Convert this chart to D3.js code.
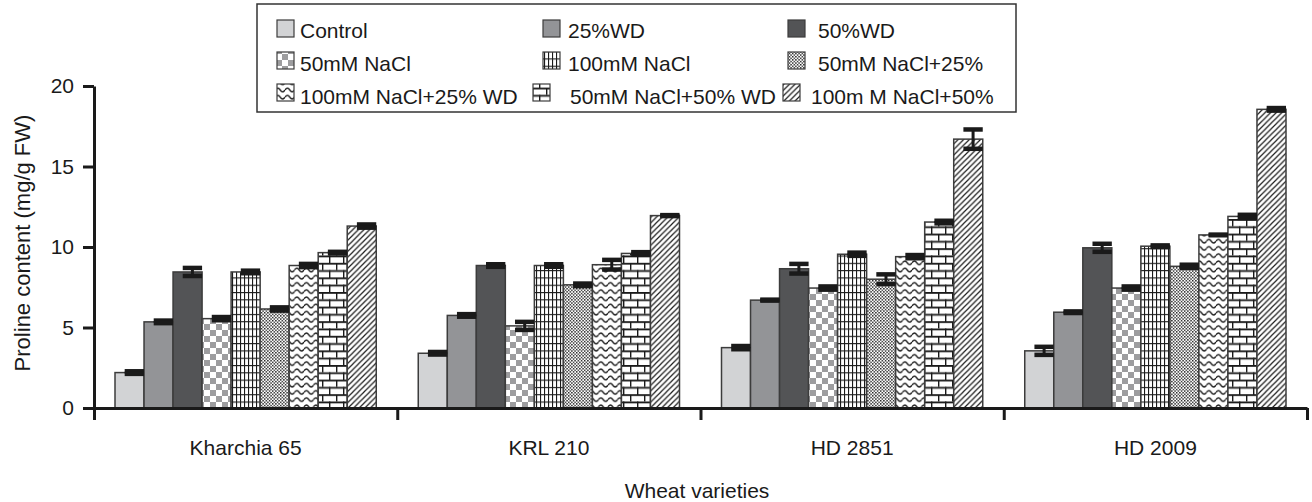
<!DOCTYPE html>
<html>
<head>
<meta charset="utf-8">
<script src="https://cdn.jsdelivr.net/npm/d3@7"></script>
<style>
  html, body { margin: 0; padding: 0; background: #fff; }
  svg { display: block; }
  text { font-family: "Liberation Sans", Arial, Helvetica, sans-serif; fill: #1a1a1a; }
</style>
</head>
<body>
<div id="chart"></div>
<script>
// ---- data ----
const categories = ["Kharchia 65", "KRL 210", "HD 2851", "HD 2009"];
const seriesNames = ["Control", "25%WD", "50%WD", "50mM NaCl", "100mM NaCl", "50mM NaCl+25%",
                     "100mM NaCl+25% WD", "50mM NaCl+50% WD", "100m M NaCl+50%"];
const valuesKharchia65 = [2.2, 5.35, 8.45, 5.55, 8.45, 6.15, 8.85, 9.65, 11.3];
const valuesKRL210     = [3.4, 5.75, 8.85, 5.1, 8.85, 7.65, 8.9, 9.6, 11.95];
const valuesHD2851     = [3.75, 6.7, 8.65, 7.45, 9.55, 8.0, 9.4, 11.55, 16.7];
const valuesHD2009     = [3.55, 5.95, 9.95, 7.45, 10.05, 8.8, 10.75, 11.9, 18.55];
const errorsKharchia65 = [0.08, 0.08, 0.25, 0.1, 0.08, 0.1, 0.1, 0.05, 0.1];
const errorsKRL210     = [0.08, 0.08, 0.08, 0.25, 0.08, 0.08, 0.3, 0.08, 0.03];
const errorsHD2851     = [0.1, 0.03, 0.3, 0.1, 0.1, 0.3, 0.1, 0.08, 0.6];
const errorsHD2009     = [0.25, 0.05, 0.25, 0.1, 0.05, 0.1, 0.02, 0.1, 0.08];
const yTicks = [0, 5, 10, 15, 20];
const yTitle = "Proline content (mg/g FW)";
const xTitle = "Wheat varieties";

const valueRows = [valuesKharchia65, valuesKRL210, valuesHD2851, valuesHD2009];
const errorRows = [errorsKharchia65, errorsKRL210, errorsHD2851, errorsHD2009];
const table = [];
categories.forEach((c, i) => seriesNames.forEach((s, j) => {
  table.push({cat: c, series: s, idx: j, value: valueRows[i][j], err: errorRows[i][j]});
}));

// ---- setup ----
const W = 1312, H = 502;
const svg = d3.select("#chart").append("svg").attr("width", W).attr("height", H);
const defs = svg.append("defs");
const ink = "#1a1a1a";

// patterns
function pat(id, w, h) {
  const p = defs.append("pattern").attr("id", id).attr("patternUnits", "userSpaceOnUse")
    .attr("width", w).attr("height", h);
  p.append("rect").attr("width", w).attr("height", h).attr("fill", "#fff");
  return p;
}
{ const p = pat("checker", 12, 12);
  p.append("rect").attr("x", 0).attr("y", 0).attr("width", 6).attr("height", 6).attr("fill", "#9d9d9f");
  p.append("rect").attr("x", 6).attr("y", 6).attr("width", 6).attr("height", 6).attr("fill", "#9d9d9f"); }
{ const p = pat("grid", 4, 7.3);
  p.append("rect").attr("x", 0).attr("y", 0).attr("width", 1.1).attr("height", 7.3).attr("fill", ink);
  p.append("rect").attr("x", 0).attr("y", 0).attr("width", 4).attr("height", 1.1).attr("fill", ink); }
{ const p = pat("dots", 3.2, 3.2);
  p.append("rect").attr("x", 0).attr("y", 0).attr("width", 1.4).attr("height", 1.4).attr("fill", ink);
  p.append("rect").attr("x", 1.6).attr("y", 1.6).attr("width", 1.4).attr("height", 1.4).attr("fill", ink); }
{ const p = pat("waves", 9.5, 7.2);
  p.append("path").attr("d", "M0,3.6 Q2.375,0 4.75,3.6 Q7.125,7.2 9.5,3.6")
    .attr("fill", "none").attr("stroke", ink).attr("stroke-width", 1.3); }
{ const p = pat("bricks", 28, 14.6);
  p.append("rect").attr("x", 0).attr("y", 0).attr("width", 28).attr("height", 1.8).attr("fill", ink);
  p.append("rect").attr("x", 0).attr("y", 7.3).attr("width", 28).attr("height", 1.8).attr("fill", ink);
  p.append("rect").attr("x", 0).attr("y", 0).attr("width", 1.4).attr("height", 7.3).attr("fill", ink);
  p.append("rect").attr("x", 14).attr("y", 0).attr("width", 1.4).attr("height", 7.3).attr("fill", ink);
  p.append("rect").attr("x", 7).attr("y", 7.3).attr("width", 1.4).attr("height", 7.3).attr("fill", ink);
  p.append("rect").attr("x", 21).attr("y", 7.3).attr("width", 1.4).attr("height", 7.3).attr("fill", ink); }
{ const p = pat("diag", 5.6, 5.6);
  p.append("path").attr("d", "M0,5.6 L5.6,0 M-1.4,1.4 L1.4,-1.4 M4.2,7 L7,4.2")
    .attr("stroke", ink).attr("stroke-width", 1.2); }

const fills = ["#d2d3d5", "#939497", "#535456", "url(#checker)", "url(#grid)", "url(#dots)",
               "url(#waves)", "url(#bricks)", "url(#diag)"];
const color = d3.scaleOrdinal().domain(seriesNames).range(fills);

// scales
const x0 = d3.scaleBand().domain(categories).range([94, 1307]).padding(0);
const x1 = d3.scaleBand().domain(seriesNames).range([21, x0.bandwidth() - 21]).padding(0);
const y = d3.scaleLinear().domain([0, 20]).range([408, 86]);

// bars
const bars = svg.append("g");
bars.selectAll("rect").data(table).join("rect")
  .attr("x", d => x0(d.cat) + x1(d.series))
  .attr("y", d => y(d.value))
  .attr("width", x1.bandwidth())
  .attr("height", d => y(0) - y(d.value))
  .attr("fill", d => color(d.series))
  .attr("stroke", "#3c3c3c")
  .attr("stroke-width", 1.5);

// error bars (offset toward right side of each bar, as in the original)
const eb = svg.append("g").attr("stroke", ink);
const bw = x1.bandwidth();
table.forEach(d => {
  const cx = x0(d.cat) + x1(d.series) + bw * 2 / 3;
  const hw = bw / 3;
  const yt = y(d.value + d.err), yb = y(d.value - d.err);
  eb.append("line").attr("x1", cx).attr("x2", cx).attr("y1", yt).attr("y2", yb).attr("stroke-width", 3);
  eb.append("line").attr("x1", cx - hw).attr("x2", cx + hw).attr("y1", yt).attr("y2", yt).attr("stroke-width", 4.5);
  eb.append("line").attr("x1", cx - hw).attr("x2", cx + hw).attr("y1", yb).attr("y2", yb).attr("stroke-width", 4.5);
});

// y axis
const yAxis = svg.append("g").attr("transform", "translate(94,0)")
  .call(d3.axisLeft(y).tickValues(yTicks).tickSize(11).tickSizeOuter(0).tickPadding(9));
yAxis.select(".domain").attr("stroke", ink).attr("stroke-width", 3);
yAxis.selectAll(".tick line").attr("stroke", ink).attr("stroke-width", 3);
yAxis.selectAll(".tick text").attr("font-size", 21).style("font-family", "'Liberation Sans', Arial, sans-serif").attr("fill", ink);

// x axis: boundary ticks
const xb = d3.scaleLinear().domain([0, categories.length]).range(x0.range());
const xAxis = svg.append("g").attr("transform", `translate(0,${y(0)})`)
  .call(d3.axisBottom(xb).tickValues(d3.range(categories.length + 1)).tickSize(12).tickSizeOuter(0).tickFormat(""));
xAxis.select(".domain").attr("stroke", ink).attr("stroke-width", 3);
xAxis.selectAll(".tick line").attr("stroke", ink).attr("stroke-width", 3);

// category labels
const xLab = svg.append("g").attr("transform", `translate(0,${y(0)})`)
  .call(d3.axisBottom(x0).tickSize(0).tickPadding(32));
xLab.select(".domain").remove();
xLab.selectAll(".tick text").attr("font-size", 21).style("font-family", "'Liberation Sans', Arial, sans-serif").attr("fill", ink);

// titles
svg.append("text").attr("x", 697).attr("y", 498).attr("text-anchor", "middle")
  .attr("font-size", 21).text(xTitle);
svg.append("text").attr("transform", "translate(30,243) rotate(-90)").attr("text-anchor", "middle")
  .attr("font-size", 22).text(yTitle);

// legend
const lg = svg.append("g");
lg.append("rect").attr("x", 257).attr("y", 4).attr("width", 759).attr("height", 108)
  .attr("fill", "#fff").attr("stroke", "#333").attr("stroke-width", 1.5);
const colSw = [277, 543, 788], colTx = [300, 568, 818];
const rowSw = [20, 52, 84], rowTx = [38, 71, 104];
seriesNames.forEach((s, i) => {
  const r = Math.floor(i / 3), c = i % 3;
  let sx = colSw[c], tx = colTx[c];
  if (r === 2 && c === 1) { sx = 533; tx = 570; }
  if (r === 2 && c === 2) { sx = 783; tx = 811; }
  lg.append("rect").attr("x", sx).attr("y", rowSw[r]).attr("width", 17).attr("height", 17)
    .attr("fill", color(s)).attr("stroke", "#3c3c3c").attr("stroke-width", 1.2);
  lg.append("text").attr("x", tx).attr("y", rowTx[r]).attr("font-size", 21).text(s);
});
</script>
</body>
</html>
